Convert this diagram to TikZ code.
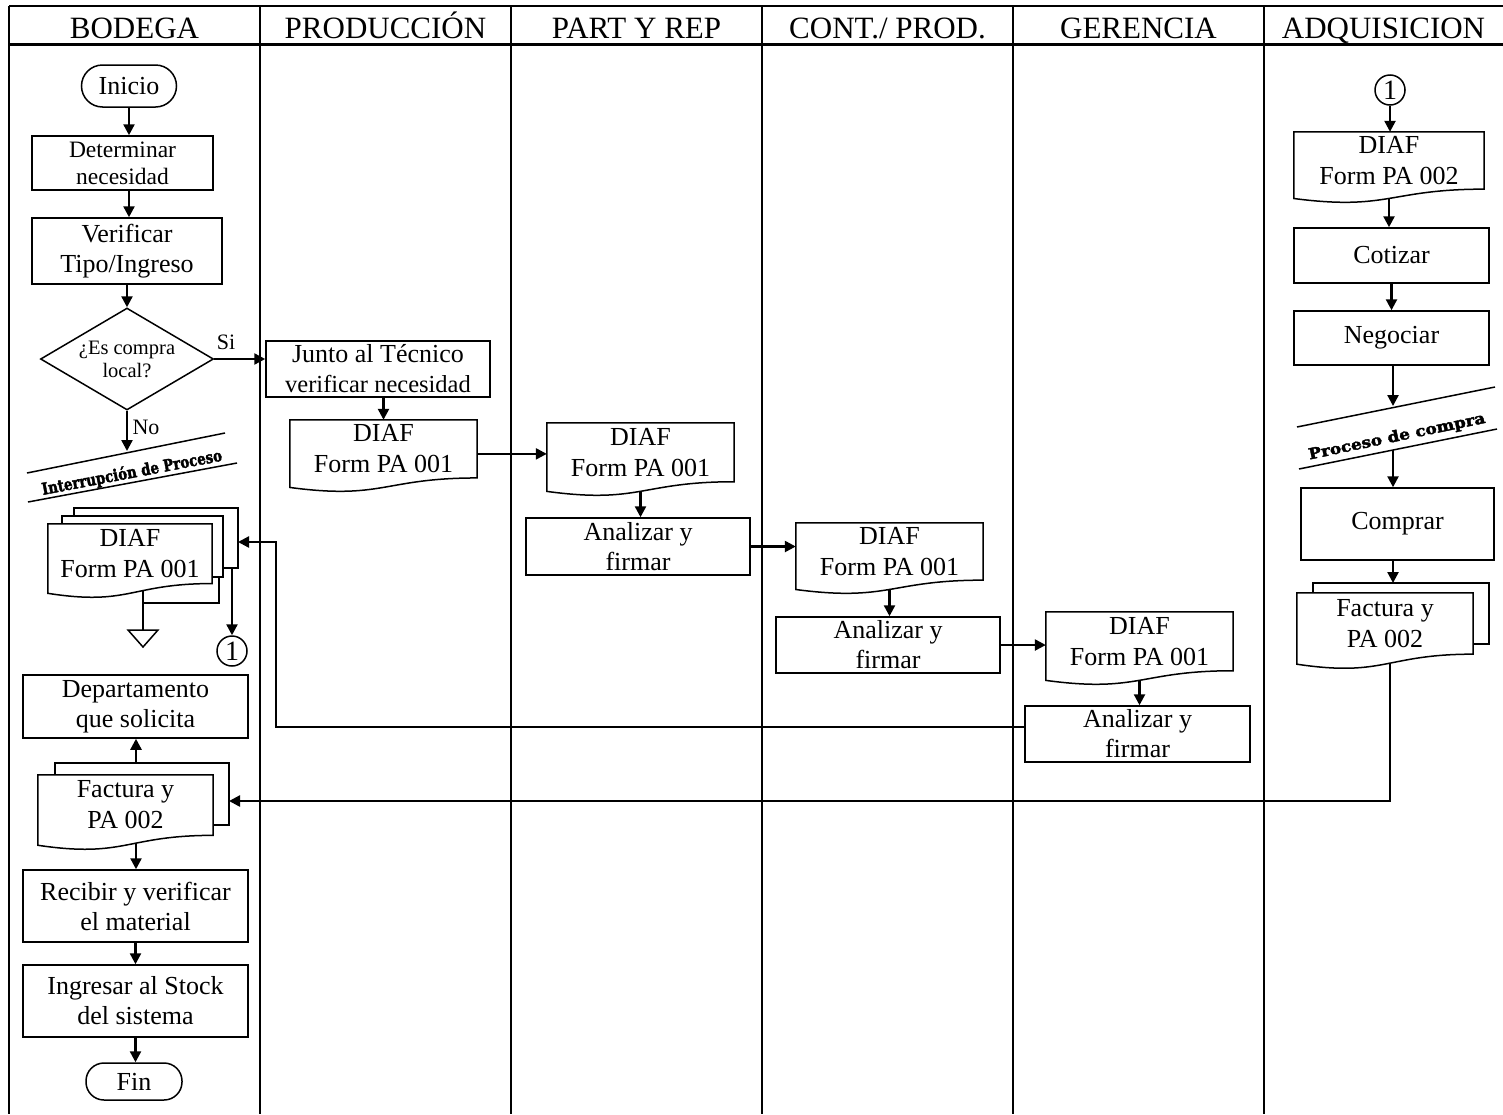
\documentclass[tikz,border=0pt]{standalone}
\usepackage{fontspec}
\setmainfont{Liberation Serif}
\font\coopfont="DejaVu Serif Bold:embolden=2.5" at 12pt
\usetikzlibrary{arrows.meta,shapes.geometric,calc}
\newcommand\fbody{\fontsize{26}{30}\selectfont}
\newcommand\fsmall{\fontsize{23.5}{27}\selectfont}
\newcommand\fhead{\fontsize{31}{31}\selectfont}
\newcommand\fdia{\fontsize{20.5}{23}\selectfont}
\newcommand\flab{\fontsize{22}{22}\selectfont}
\newcommand\fdoc{\fontsize{26}{31}\selectfont}
\newcommand\docnode[6]{%
  \pgfmathsetmacro\dcx{#2+#4/2}\pgfmathsetmacro\dcy{#3+0.401*#5}\pgfmathsetmacro\dch{0.802*#5}%
  \node[docbox, minimum width=#4pt, minimum height=\dch pt] (#1) at (\dcx,\dcy) {#6};
  \draw[boxln] (#1.north west) -- (#1.north east) -- (#1.south east)
    .. controls (#1.south) and ([yshift=-0.3055*#5pt]#1.south)
    .. ([yshift=-0.132*#5pt]#1.south west) -- cycle;
  \coordinate (#1-b) at ([yshift=-0.131*#5pt]#1.south);
}
\newcommand\backlayer[6]{\draw[boxln] (#1,#5) -- (#1,#2) -- (#3,#2) -- (#3,#4) -- (#6,#4);}
\begin{document}
\begin{tikzpicture}[x=1pt,y=-1pt,
  boxln/.style={line width=1.5pt, line join=miter},
  lane/.style={line width=2pt},
  ln/.style={line width=2.4pt},
  arr/.style={line width=2.4pt, -{Triangle[length=11pt,width=11pt]}},
  procbox/.style={draw, line width=1.5pt, rectangle, inner sep=0pt, align=center, font=\fbody},
  docbox/.style={rectangle, inner sep=0pt, align=center, font=\fdoc},
  term/.style={draw, line width=1.5pt, rectangle, rounded corners=18pt, inner sep=0pt, font=\fbody},
  headtxt/.style={anchor=base, font=\fhead, inner sep=0pt},
  conn/.style={draw, circle, line width=1.5pt, inner sep=0pt, minimum size=30pt, font=\fontsize{28}{28}\selectfont}
]
\useasboundingbox (0,0) rectangle (1503,1114);
% lanes
\draw[lane] (9,6) -- (1503,6);
\draw[line width=3pt] (9,44) -- (1503,44);
\foreach \xx in {9,260,511,762,1013,1264} \draw[lane] (\xx,6) -- (\xx,1114);
\node[headtxt] (h1) at (134.5,38) {BODEGA};
\node[headtxt] (h2) at (385.5,38) {PRODUCCIÓN};
\node[headtxt] (h3) at (636.5,38) {PART Y REP};
\node[headtxt] (h4) at (887.5,38) {CONT./ PROD.};
\node[headtxt] (h5) at (1138.5,38) {GERENCIA};
\node[headtxt] (h6) at (1383.5,38) {ADQUISICION};

% BODEGA
\node[term, minimum width=95pt, minimum height=42pt, rounded corners=21pt] (inicio) at (129,86) {Inicio};
\node[procbox, minimum width=181pt, minimum height=54pt, font=\fsmall] (det) at (122.5,163) {Determinar\\necesidad};
\node[procbox, minimum width=190pt, minimum height=66pt] (ver) at (127,251) {Verificar\\Tipo/Ingreso};
\node[diamond, draw, line width=1.5pt, shape aspect=1.7, minimum width=173pt, minimum height=102pt, inner sep=0pt, align=center, font=\fdia] (dia) at (127,359) {¿Es compra\\local?};
\node[font=\flab, inner sep=0pt] (si) at (226,342) {Si};
\node[font=\flab, inner sep=0pt] (no) at (146,427) {No};
\draw[boxln] (27,473) -- (225,433);
\draw[boxln] (28,502) -- (237,463);
\node[rotate=10.8, inner sep=0pt] (intr) at (132,473) {\resizebox{183pt}{13pt}{\coopfont Interrupción de Proceso}};
\coordinate (ip1) at (127,451);

\backlayer{74}{508}{238}{568}{516}{223}
\backlayer{62}{516}{223}{577}{524}{212}
\docnode{md1}{48}{524}{164}{74}{DIAF\\Form PA 001}
\coordinate (tri) at (143,630);
\draw[boxln] (128,630) -- (158,630) -- (143,647) -- cycle;
\draw[ln] (143,590.5) -- (tri);
\draw[ln] (219,577) -- (219,603) -- (143,603);
\node[conn] (c1) at (232,651) {1};
\coordinate (md1c) at (232,568);
\coordinate (md1in) at (238,542);

\node[procbox, minimum width=225pt, minimum height=63pt] (dept) at (135.5,706.5) {Departamento\\que solicita};
\backlayer{55}{763}{229}{825}{775}{213}
\docnode{fact1}{38}{775}{175}{75}{\fbody Factura y\\PA 002}
\coordinate (f1top) at (136,763);
\coordinate (f1b) at (136,843);
\coordinate (f1in) at (229,801);
\node[procbox, minimum width=225pt, minimum height=72pt] (rec) at (135.5,906) {Recibir y verificar\\el material};
\node[procbox, minimum width=225pt, minimum height=72pt] (ing) at (135.5,1001) {Ingresar al Stock\\del sistema};
\node[term, minimum width=96pt, minimum height=37pt] (fin) at (134,1081.5) {Fin};

% PRODUCCION
\node[procbox, minimum width=224pt, minimum height=56pt] (jun) at (378,369) {Junto al Técnico\\{\fontsize{24.5}{30}\selectfont verificar necesidad}};
\docnode{diaf2}{290}{420}{187}{72}{DIAF\\Form PA 001}

% PART Y REP
\docnode{diaf3}{547}{423}{187}{73}{DIAF\\Form PA 001}
\node[procbox, minimum width=224pt, minimum height=57pt] (ana1) at (638,546.5) {Analizar y\\firmar};

% CONT
\docnode{diaf4}{796}{523}{187}{71}{DIAF\\Form PA 001}
\node[procbox, minimum width=224pt, minimum height=56pt] (ana2) at (888,645) {Analizar y\\firmar};

% GERENCIA
\docnode{diaf5}{1046}{612}{187}{73}{DIAF\\Form PA 001}
\node[procbox, minimum width=225pt, minimum height=56pt] (ana3) at (1137.5,734) {Analizar y\\firmar};
\coordinate (ret1) at (276,727);
\coordinate (ret2) at (276,542);

% ADQUISICION
\node[conn] (c2) at (1390,90) {1};
\docnode{diaf6}{1294}{132}{190}{71}{DIAF\\Form PA 002}
\node[procbox, minimum width=195pt, minimum height=55pt] (cot) at (1391.5,255.5) {Cotizar};
\node[procbox, minimum width=195pt, minimum height=54pt] (neg) at (1391.5,338) {Negociar};
\draw[boxln] (1297,427) -- (1495,387);
\draw[boxln] (1299,469) -- (1497,429);
\node[rotate=11.8, inner sep=0pt] (pcomp) at (1397,437) {\resizebox{180pt}{11.5pt}{\coopfont Proceso de compra}};
\coordinate (pc1) at (1393,406);
\coordinate (pc2) at (1393,450);
\node[procbox, minimum width=193pt, minimum height=72pt] (comp) at (1397.5,524) {Comprar};
\backlayer{1313}{583}{1489}{644}{593}{1473}
\docnode{fact2}{1297}{593}{176}{76}{\fbody Factura y\\PA 002}
\coordinate (f2top) at (1393,583);
\coordinate (f2b) at (1390,663);
\coordinate (f2c) at (1390,801);

% connectors
\draw[arr] (inicio.south) -- (inicio.south |- det.north);
\draw[arr] (inicio.south |- det.south) -- (inicio.south |- ver.north);
\draw[arr] (dia.north |- ver.south) -- (dia.north);
\draw[arr] (dia.east) -- (dia.east -| jun.west);
\draw[arr] (dia.south) -- (ip1);
\draw[arr] (md1c) -- (c1.north);
\draw[arr] (f1top) -- (f1top |- dept.south);
\draw[arr] (f1b) -- (f1b |- rec.north);
\draw[arr] (rec.south) -- (ing.north);
\draw[arr] (ing.south) -- (ing.south |- fin.north);
\draw[arr] (diaf2.north |- jun.south) -- (diaf2.north);
\draw[arr] ([yshift=-5pt]diaf2.east) -- ([yshift=-5pt]diaf2.east -| diaf3.west);
\draw[arr] (diaf3-b) -- (diaf3-b |- ana1.north);
\draw[arr] (ana1.east) -- (ana1.east -| diaf4.west);
\draw[arr] (diaf4-b) -- (diaf4-b |- ana2.north);
\draw[arr] (ana2.east) -- (ana2.east -| diaf5.west);
\draw[arr] (diaf5-b) -- (diaf5-b |- ana3.north);
\draw[arr] ([yshift=7pt]ana3.west) -- (ret1) -- (ret2) -- (md1in);
\draw[arr] (c2.south) -- (c2.south |- diaf6.north);
\draw[arr] (diaf6-b) -- (diaf6-b |- cot.north);
\draw[arr] (cot.south) -- (neg.north);
\draw[arr] (neg.south -| pc1) -- (pc1);
\draw[arr] (pc2) -- (pc2 |- comp.north);
\draw[arr] (comp.south -| f2top) -- (f2top);
\draw[arr] (f2b) -- (f2c) -- (f1in);
\end{tikzpicture}
\end{document}
